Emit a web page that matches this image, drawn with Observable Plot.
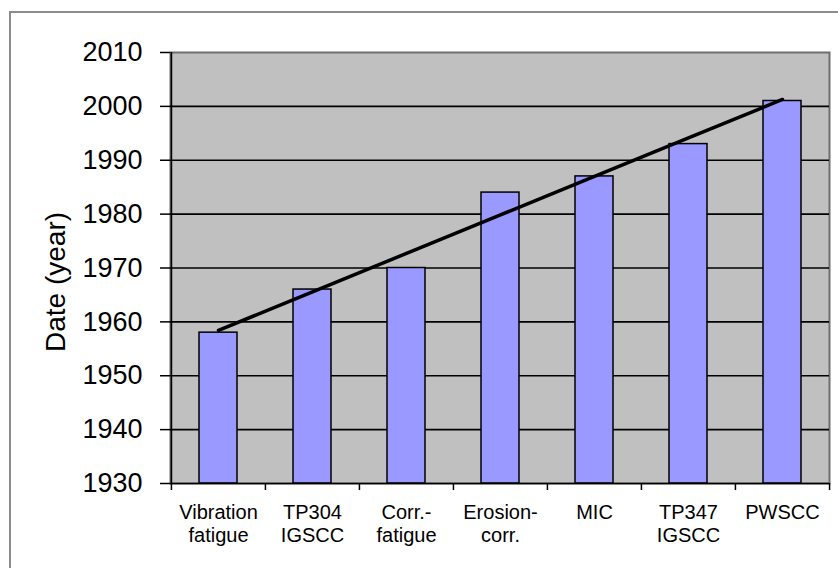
<!DOCTYPE html>
<html><head><meta charset="utf-8">
<script src="https://cdn.jsdelivr.net/npm/d3@7"></script>
<script src="https://cdn.jsdelivr.net/npm/@observablehq/plot@0.6"></script>
<style>
body{margin:0;background:#fff;}
#wrap{position:relative;width:838px;height:568px;overflow:hidden;background:#fff;}
#border{position:absolute;left:9px;top:11px;width:900px;height:700px;border:2px solid #8c8c8c;}
#chart{position:absolute;left:0;top:0;}
svg text{font-family:"Liberation Sans",Arial,sans-serif;}
</style></head><body>
<div id="wrap"><div id="border"></div><div id="chart"></div></div>
<script>
const categories = ["Vibration\nfatigue","TP304\nIGSCC","Corr.-\nfatigue","Erosion-\ncorr.","MIC","TP347\nIGSCC","PWSCC"];
const years = [1958,1966,1970,1984,1987,1993,2001];
const yTicks = [1930,1940,1950,1960,1970,1980,1990,2000,2010];
const yLabel = "Date (year)";

const data = categories.map((c,i)=>({cat:c, year:years[i], idx:i}));
// linear trend (least squares) from the data
const mx = d3.mean(data, d=>d.idx), my = d3.mean(data, d=>d.year);
const slope = d3.sum(data, d=>(d.idx-mx)*(d.year-my)) / d3.sum(data, d=>(d.idx-mx)**2);
const trend = data.map(d=>({cat:d.cat, fit: my + slope*(d.idx-mx)}));

const W = 838, H = 568, mL = 170, mR = 9, mT = 52, mB = 85;
const step = (W - mL - mR) / categories.length;

const plot = Plot.plot({
  width: W, height: H,
  marginLeft: mL, marginRight: mR, marginTop: mT, marginBottom: mB,
  style: {fontFamily: "'Liberation Sans', Arial, sans-serif", color: "#000", background: "transparent"},
  x: {domain: categories, paddingInner: 0.6, paddingOuter: 0.3, axis: null},
  y: {domain: [yTicks[0], yTicks[yTicks.length-1]], axis: null},
  marks: [
    Plot.frame({fill: "#c0c0c0", stroke: "#6e6e6e", strokeWidth: 2}),
    Plot.ruleY(yTicks.slice(1, -1), {stroke: "#000", strokeWidth: 1.6}),
    Plot.barY(data, {x: "cat", y1: yTicks[0], y2: "year", fill: "#9999ff", stroke: "#000", strokeWidth: 1.5}),
    Plot.line(trend, {x: "cat", y: "fit", stroke: "#000", strokeWidth: 3.5}),
    Plot.ruleY([yTicks[0]], {stroke: "#000", strokeWidth: 1.6}),
    // left axis line
    Plot.ruleX([categories[0]], {x: d=>d, dx: -step/2, stroke: "#000", strokeWidth: 1.6}),
    // x tick marks at category boundaries
    Plot.ruleX(categories, {x: d=>d, dx: -step/2, y1: yTicks[0], y2: yTicks[0], insetBottom: -7, stroke: "#000", strokeWidth: 1.5}),
    Plot.ruleX([categories[categories.length-1]], {x: d=>d, dx: step/2, y1: yTicks[0], y2: yTicks[0], insetBottom: -7, stroke: "#000", strokeWidth: 1.5}),
    Plot.axisY(yTicks, {tickSize: 10, tickPadding: 18, fontSize: 27, label: null, strokeWidth: 1.5, tickFormat: d3.format("d")}),
    Plot.text(categories, {x: d=>d, frameAnchor: "bottom", dy: 19, lineAnchor: "top", text: d=>d, fontSize: 20, lineHeight: 1.15, fill: "#000", letterSpacing: 0.5}),
    Plot.text([yLabel], {frameAnchor: "left", textAnchor: "middle", dx: -114, dy: 14, rotate: -90, text: d=>d, fontSize: 28, fill: "#000"})
  ]
});
document.getElementById("chart").appendChild(plot);
</script>
</body></html>
